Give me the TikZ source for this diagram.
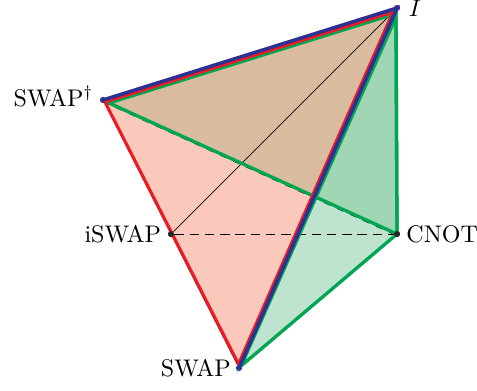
\documentclass[tikz,border=0pt]{standalone}
\usepackage{amsmath,amssymb}
\usepackage{xcolor}
\usetikzlibrary{positioning,calc}
\definecolor{edgeblue}{RGB}{46,49,146}
\definecolor{edgered}{RGB}{237,28,36}
\definecolor{edgegreen}{RGB}{0,166,81}
\definecolor{facered}{RGB}{251,201,187}
\definecolor{facegreen}{RGB}{190,228,208}
\definecolor{facemid}{RGB}{160,214,180}
\definecolor{facetan}{RGB}{217,187,160}

\begin{document}
\begin{tikzpicture}[x=0.42pt, y=-0.42pt, every node/.style={font=\fontsize{10.1}{12}\selectfont}]
  \tikzset{
    vertex/.style={circle, fill=black!85, inner sep=0pt, minimum size=2.5pt},
    bluevertex/.style={vertex, fill=edgeblue, minimum size=2.6pt},
    blueedge/.style={draw=edgeblue, line width=1.5pt, line cap=round},
    rededge/.style={draw=edgered, line width=1.3pt},
    greenedge/.style={draw=edgegreen, line width=1.4pt},
    thinedge/.style={draw=black, line width=0.3pt}
  }
  \useasboundingbox (0,0) rectangle (477,390);

  % the four corners
  \node[bluevertex] (vI)  at (397,8)   {};
  \node[bluevertex] (vD)  at (103,100) {};
  \node[vertex]     (vIS) at (171,234) {};
  \node[vertex]     (vC)  at (397,234) {};
  \node[bluevertex] (vS)  at (239,368) {};

  \coordinate (vX) at (intersection of vD.center--vC.center and vI.center--vS.center);

  % corners of the inset triangles
  \coordinate (rI) at (393,12);
  \coordinate (rD) at (105,102);
  \coordinate (rS) at (238.5,364);
  \coordinate (gI) at (396,13.5);
  \coordinate (gD) at (109,103);
  \coordinate (hI) at (396,17);
  \coordinate (hS) at (241,366);

  \fill[facered]   (vD.center) -- (vX) -- (vS.center) -- cycle;
  \fill[facegreen] (vX) -- (vC.center) -- (vS.center) -- cycle;
  \fill[facemid]   (vI.center) -- (vC.center) -- (vX) -- cycle;
  \fill[facetan]   (vD.center) -- (vI.center) -- (vX) -- cycle;

  \draw[thinedge] (vI) -- (vIS);
  \draw[thinedge, dash pattern=on 4pt off 2.4pt] (vIS) -- (vC);
  \draw[thinedge] (vD) -- (vS);
  \draw[thinedge, line width=0.5pt, dashed] ($(vD)+(0,1.5)$) -- ($(vC)+(0,1.5)$);

  \draw[greenedge] (gI) -- (gD) -- (vC.center) -- cycle;
  \draw[greenedge] (hI) -- (vC.center) -- (hS) -- cycle;
  \draw[rededge]   (rI) -- (rD) -- (rS) -- cycle;
  \draw[blueedge]  (vD.center) -- (vI.center) -- (vS.center);

  \node[vertex] at (vIS) {};
  \node[vertex] at (vC)  {};

  \node[right=0pt of vI, yshift=-0.3pt] (lI)  {$I$};
  \node[left=-1pt of vD, yshift=1.5pt] (lD) {SWAP$^\dagger$};
  \node[left=-0.8pt of vIS]  (lIS) {iSWAP};
  \node[right=-1pt of vC]  (lC)  {CNOT};
  \node[left=-1.6pt of vS]   (lS)  {SWAP};
\end{tikzpicture}
\end{document}
